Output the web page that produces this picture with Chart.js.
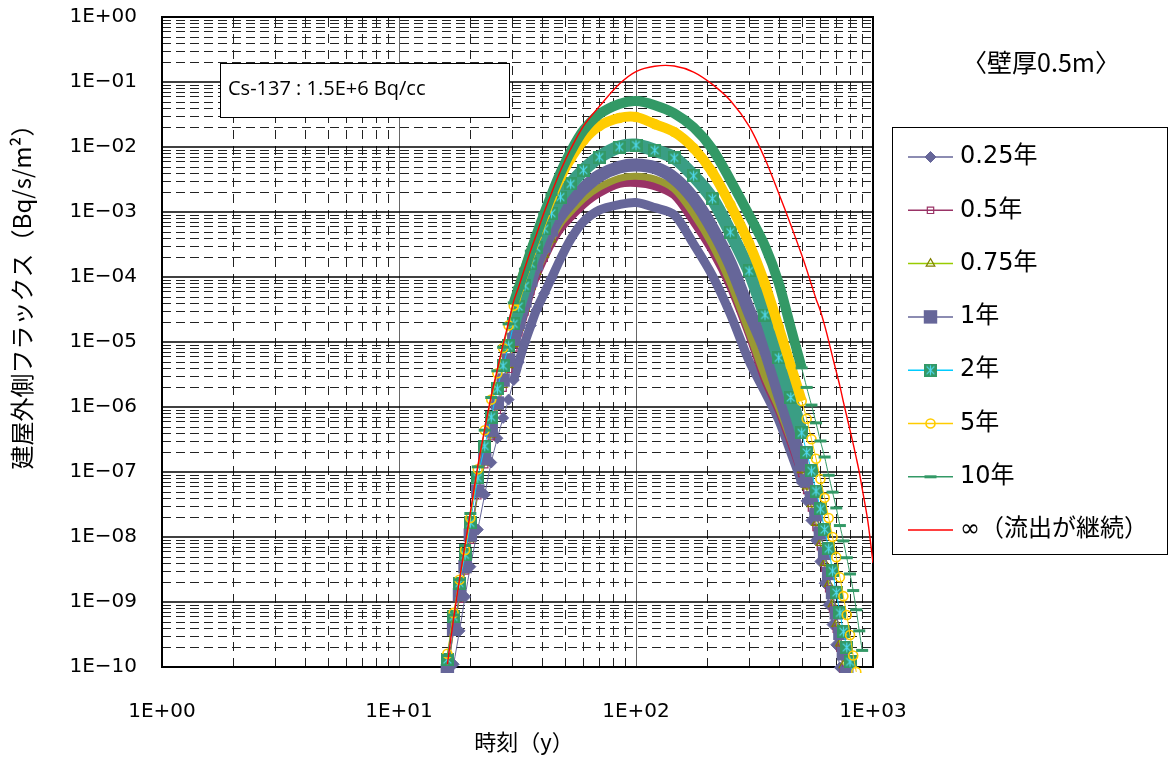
<!DOCTYPE html>
<html>
<head>
<meta charset="utf-8">
<script src="https://cdn.jsdelivr.net/npm/chart.js@4.4.0/dist/chart.umd.min.js"></script>
<style>
  html, body { margin: 0; padding: 0; background: #fff; }
  #wrap { width: 1173px; height: 761px; }
</style>
</head>
<body>
<div id="wrap"><canvas id="fluxChart"></canvas></div>
<script>
// elapsed time (y), shared by every series
const times = [16, 17, 18, 19, 20, 21.5, 23, 24.5, 26, 27.5, 29, 30.5, 32, 34, 36, 38, 41, 44, 48, 53, 60, 70, 85,
  100, 120, 145, 175, 210, 250, 300, 350, 400, 450, 500, 525, 550, 575, 600, 625, 650, 675, 700, 725, 750, 775,
  800, 825, 850, 875, 900, 950, 1000];

// flux outside the building (Bq/s/m2) for each release duration
const flux025 = [null, 1.1e-10, 3.6e-10, 1.2e-9, 3.5e-9, 1.3e-8, 4.5e-8, 1.4e-7, 3.3e-7, 6.8e-7, 1.3e-6, 2.6e-6, 4.9e-6, 1.0e-5, 1.8e-5, 3.1e-5, 5.6e-5, 9.6e-5, 1.9e-4, 3.8e-4, 7.1e-4, 1.07e-3, 1.3e-3,
  1.4e-3, 1.17e-3, 9.1e-4, 3.2e-4, 1.05e-4, 2.7e-5, 5.1e-6, 1.7e-6, 6.3e-7, 2.0e-7, 6.9e-8, 3.6e-8, 1.8e-8, 8.9e-9, 4.2e-9, 1.95e-9, 9.1e-10, 4.5e-10, 2.2e-10, 9.8e-11, null, null,
  null, null, null, null, null, null, null];
const flux05 = [8.0e-11, 3.5e-10, 1.1e-9, 3.0e-9, 8.9e-9, 4.3e-8, 1.3e-7, 3.5e-7, 8.9e-7, 1.95e-6, 3.8e-6, 8.1e-6, 1.4e-5, 2.9e-5, 6.0e-5, 1.04e-4, 1.95e-4, 3.3e-4, 5.5e-4, 8.3e-4, 1.3e-3, 1.95e-3, 2.7e-3,
  2.8e-3, 2.5e-3, 1.8e-3, 7.1e-4, 2.5e-4, 7.1e-5, 1.3e-5, 2.6e-6, 8.9e-7, 2.8e-7, 9.5e-8, 5.2e-8, 2.8e-8, 1.4e-8, 7.1e-9, 3.3e-9, 1.6e-9, 7.8e-10, 3.8e-10, 1.95e-10, 8.7e-11, null,
  null, null, null, null, null, null, null];
const flux075 = [8.1e-11, 3.6e-10, 1.15e-9, 3.1e-9, 9.3e-9, 4.6e-8, 1.4e-7, 3.8e-7, 1.0e-6, 2.2e-6, 4.4e-6, 9.3e-6, 1.65e-5, 3.3e-5, 7.1e-5, 1.2e-4, 2.2e-4, 3.8e-4, 6.6e-4, 1.0e-3, 1.6e-3, 2.4e-3, 3.3e-3,
  3.55e-3, 3.2e-3, 2.25e-3, 9.3e-4, 3.1e-4, 8.1e-5, 1.4e-5, 2.9e-6, 9.6e-7, 3.1e-7, 1.07e-7, 6.0e-8, 3.2e-8, 1.65e-8, 8.1e-9, 4.0e-9, 1.9e-9, 9.3e-10, 4.6e-10, 2.3e-10, 1.07e-10, null,
  null, null, null, null, null, null, null];
const flux1 = [8.7e-11, 3.8e-10, 1.3e-9, 3.5e-9, 1.07e-8, 5.1e-8, 1.6e-7, 4.4e-7, 1.15e-6, 2.6e-6, 5.3e-6, 1.1e-5, 2.0e-5, 4.3e-5, 9.0e-5, 1.6e-4, 3.0e-4, 5.3e-4, 9.0e-4, 1.4e-3, 2.3e-3, 3.6e-3, 4.9e-3,
  5.3e-3, 4.8e-3, 3.3e-3, 1.6e-3, 5.6e-4, 1.6e-4, 3.0e-5, 7.9e-6, 1.7e-6, 4.6e-7, 1.3e-7, 7.3e-8, 4.0e-8, 2.2e-8, 1.15e-8, 5.6e-9, 2.75e-9, 1.4e-9, 6.8e-10, 3.3e-10, 1.6e-10, 8.0e-11,
  null, null, null, null, null, null, null];
const flux2 = [1.3e-10, 5.9e-10, 1.96e-9, 5.3e-9, 1.65e-8, 8.1e-8, 2.5e-7, 7.0e-7, 1.9e-6, 4.3e-6, 8.7e-6, 1.9e-5, 3.5e-5, 7.3e-5, 1.6e-4, 2.8e-4, 5.5e-4, 9.6e-4, 1.7e-3, 2.7e-3, 4.4e-3, 7.0e-3, 1.0e-2,
  1.07e-2, 8.9e-3, 6.8e-3, 3.6e-3, 1.6e-3, 4.9e-4, 1.24e-4, 2.6e-5, 5.7e-6, 1.4e-6, 4.0e-7, 2.0e-7, 1.04e-7, 5.1e-8, 2.7e-8, 1.3e-8, 6.6e-9, 3.0e-9, 1.4e-9, 6.8e-10, 3.5e-10, 2.0e-10,
  1.2e-10, 7.0e-11, null, null, null, null, null];
const flux5 = [1.6e-10, 6.8e-10, 2.2e-9, 6.3e-9, 1.96e-8, 1.1e-7, 4.4e-7, 1.3e-6, 3.3e-6, 8.1e-6, 1.8e-5, 3.6e-5, 6.6e-5, 1.3e-4, 2.4e-4, 4.2e-4, 8.7e-4, 1.66e-3, 3.4e-3, 6.6e-3, 1.26e-2, 2.1e-2, 2.8e-2,
  2.9e-2, 2.25e-2, 1.7e-2, 9.6e-3, 4.1e-3, 1.3e-3, 3.3e-4, 7.8e-5, 1.7e-5, 4.3e-6, 1.24e-6, 6.6e-7, 3.2e-7, 1.6e-7, 7.8e-8, 4.0e-8, 1.96e-8, 1.0e-8, 4.9e-9, 2.4e-9, 1.23e-9, 6.3e-10,
  3.1e-10, 1.5e-10, 8.4e-11, null, null, null, null];
const flux10 = [1.5e-10, 6.3e-10, 2.2e-9, 7.4e-9, 2.3e-8, 1.2e-7, 4.4e-7, 1.4e-6, 3.6e-6, 8.3e-6, 1.9e-5, 4.0e-5, 6.8e-5, 1.32e-4, 2.5e-4, 4.4e-4, 9.5e-4, 1.86e-3, 4.0e-3, 8.5e-3, 1.8e-2, 3.2e-2, 4.6e-2,
  5.1e-2, 4.4e-2, 3.3e-2, 2.0e-2, 9.3e-3, 3.1e-3, 9.0e-4, 3.0e-4, 8.1e-5, 1.64e-5, 4.0e-6, 2.0e-6, 1.07e-6, 5.7e-7, 3.0e-7, 1.7e-7, 8.9e-8, 4.9e-8, 2.8e-8, 1.5e-8, 8.7e-9, 4.8e-9,
  2.7e-9, 1.5e-9, 7.6e-10, 3.6e-10, 1.8e-10, null, null];
const fluxInf = [1.1e-10, 5.6e-10, 2.2e-9, 7.6e-9, 2.4e-8, 1.23e-7, 4.6e-7, 1.5e-6, 3.8e-6, 9.3e-6, 2.0e-5, 4.3e-5, 7.1e-5, 1.4e-4, 2.6e-4, 4.5e-4, 1.0e-3, 1.95e-3, 4.3e-3, 9.3e-3, 2.1e-2, 4.2e-2, 9.3e-2,
  0.145, 0.175, 0.176, 0.142, 9.2e-2, 5.2e-2, 2.1e-2, 6.6e-3, 1.95e-3, 6.3e-4, 2.2e-4, 1.3e-4, 7.6e-5, 4.6e-5, 3.0e-5, 1.8e-5, 1.04e-5, 5.9e-6, 3.5e-6, 2.1e-6, 1.2e-6, 7.2e-7,
  4.4e-7, 2.7e-7, 1.65e-7, 1.0e-7, 5.6e-8, 1.8e-8, 4.0e-9];

const seriesLabels = ['0.25年', '0.5年', '0.75年', '1年', '2年', '5年', '10年', '∞（流出が継続）'];

// axis ticks
const xTickValues = [1, 10, 100, 1000];
const xTickLabels = ['1E+00', '1E+01', '1E+02', '1E+03'];
const yTickValues = [1e-10, 1e-9, 1e-8, 1e-7, 1e-6, 1e-5, 1e-4, 1e-3, 1e-2, 1e-1, 1];
const yTickLabels = ['1E−10', '1E−09', '1E−08', '1E−07', '1E−06', '1E−05', '1E−04', '1E−03', '1E−02', '1E−01', '1E+00'];

const noteText = 'Cs-137 : 1.5E+6 Bq/cc';
const wallText = '〈壁厚0.5m〉';
const yTitleText = '建屋外側フラックス（Bq/s/m²）';
const xTitleText = '時刻（y）';

// green square with a cyan star, used as the 2-year marker
function starSquare(size) {
    const c = document.createElement('canvas');
    c.width = size;
    c.height = size;
    const g = c.getContext('2d');
    g.fillStyle = '#339966';
    g.fillRect(0, 0, size, size);
    g.strokeStyle = '#4fd8f0';
    g.lineWidth = 1.2;
    const m = size / 2, k = size * 0.3;
    g.beginPath();
    g.moveTo(m, m - k - 1); g.lineTo(m, m + k + 1);
    g.moveTo(m - k, m - k); g.lineTo(m + k, m + k);
    g.moveTo(m + k, m - k); g.lineTo(m - k, m + k);
    g.stroke();
    return c;
}

// the packed middle part of each run is drawn as a wide band
const inBand = c => c.p0.parsed.x >= 30 && c.p1.parsed.x <= 500;
function bandSegment(width, bandColor, lineColor) {
    return {
        borderWidth: c => inBand(c) ? width : 1,
        borderColor: c => inBand(c) ? bandColor : lineColor
    };
}
// markers only where they stand apart (rising edge and the tail)
function markerRadius(r, keepAll) {
    return c => {
        const t = c.raw ? c.raw.x : 0;
        return (!keepAll && t > 44 && t < 500) ? 0 : r;
    };
}

function points(values) {
    return times.map((t, i) => ({ x: t, y: values[i] }));
}

const datasets = [
    {
        label: seriesLabels[0], data: points(flux025),
        borderColor: '#666699', segment: bandSegment(9, '#666699', '#666699'),
        pointStyle: 'rectRot', legendRadius: 5.5, pointRadius: markerRadius(5.5),
        pointBackgroundColor: '#666699', pointBorderColor: '#666699', pointBorderWidth: 1,
        order: 10
    },
    {
        label: seriesLabels[1], data: points(flux05),
        borderColor: '#993366', segment: bandSegment(8, '#993366', '#993366'),
        pointStyle: 'rect', legendRadius: 4.5, pointRadius: markerRadius(4.5),
        pointBackgroundColor: 'rgba(255,255,255,0)', pointBorderColor: '#993366', pointBorderWidth: 1.2,
        order: 9
    },
    {
        label: seriesLabels[2], data: points(flux075),
        borderColor: '#99CC00', segment: bandSegment(7, '#999933', '#99CC00'),
        pointStyle: 'triangle', legendRadius: 5, pointRadius: markerRadius(5),
        pointBackgroundColor: 'rgba(255,255,255,0)', pointBorderColor: '#808000', pointBorderWidth: 1.2,
        order: 8
    },
    {
        label: seriesLabels[3], data: points(flux1),
        borderColor: '#666699', segment: bandSegment(13, '#666699', '#666699'),
        pointStyle: 'rect', legendRadius: 9.5, pointRadius: markerRadius(9.5),
        pointBackgroundColor: '#666699', pointBorderColor: '#666699', pointBorderWidth: 0,
        order: 7
    },
    {
        label: seriesLabels[4], data: points(flux2),
        borderColor: '#00CCFF', segment: bandSegment(13, '#3a9e84', '#00CCFF'),
        pointStyle: starSquare(13), legendRadius: 6.5, pointRadius: markerRadius(6.5, true),
        pointBackgroundColor: '#339966', pointBorderColor: '#339966', pointBorderWidth: 0,
        order: 6
    },
    {
        label: seriesLabels[5], data: points(flux5),
        borderColor: '#FFCC00', segment: bandSegment(10, '#FFCC00', '#FFCC00'),
        pointStyle: 'circle', legendRadius: 4.5, pointRadius: markerRadius(4.5, true),
        pointBackgroundColor: 'rgba(255,255,255,0)', pointBorderColor: '#FFCC00', pointBorderWidth: 1.6,
        order: 5
    },
    {
        label: seriesLabels[6], data: points(flux10),
        borderColor: '#339966', segment: bandSegment(10, '#339966', '#339966'),
        pointStyle: 'line', legendRadius: 6, pointRadius: markerRadius(6),
        pointBackgroundColor: '#339966', pointBorderColor: '#339966', pointBorderWidth: 3,
        order: 4
    },
    {
        label: seriesLabels[7], data: points(fluxInf),
        borderColor: '#FF0000', borderWidth: 1.4,
        legendRadius: 0, pointRadius: 0, pointStyle: 'circle',
        pointBackgroundColor: '#FF0000', pointBorderColor: '#FF0000', pointBorderWidth: 0,
        order: 3
    }
];

// log grid: solid decades, dashed 2..9 in between
const minorSteps = [2, 3, 4, 5, 6, 7, 8, 9];
const fluxGrid = {
    id: 'fluxGrid',
    beforeDatasetsDraw(chart) {
        const { ctx, chartArea: a, scales: { x, y } } = chart;
        ctx.save();
        ctx.lineWidth = 1;
        ctx.strokeStyle = '#222';
        ctx.setLineDash([9, 5]);
        for (let e = -10; e < 0; e++) {
            minorSteps.forEach(m => {
                const py = Math.round(y.getPixelForValue(m * Math.pow(10, e))) + 0.5;
                ctx.beginPath(); ctx.moveTo(a.left, py); ctx.lineTo(a.right, py); ctx.stroke();
            });
        }
        ctx.setLineDash([9, 7]);
        for (let e = 0; e < 3; e++) {
            minorSteps.forEach(m => {
                const px = Math.round(x.getPixelForValue(m * Math.pow(10, e))) + 0.5;
                ctx.beginPath(); ctx.moveTo(px, a.bottom); ctx.lineTo(px, a.top); ctx.stroke();
            });
        }
        ctx.setLineDash([]);
        ctx.strokeStyle = '#666';
        [10, 100].forEach(v => {
            const px = Math.round(x.getPixelForValue(v)) + 0.5;
            ctx.beginPath(); ctx.moveTo(px, a.top); ctx.lineTo(px, a.bottom); ctx.stroke();
        });
        ctx.strokeStyle = '#000';
        ctx.lineWidth = 1.5;
        yTickValues.forEach(v => {
            const py = Math.round(y.getPixelForValue(v));
            ctx.beginPath(); ctx.moveTo(a.left, py); ctx.lineTo(a.right, py); ctx.stroke();
        });
        ctx.lineWidth = 2;
        ctx.strokeRect(a.left, a.top, a.right - a.left, a.bottom - a.top);
        ctx.restore();
    }
};

// legend, note box, wall label and both axis titles
const fluxDecor = {
    id: 'fluxDecor',
    afterDraw(chart) {
        const { ctx } = chart;
        ctx.save();

        ctx.fillStyle = '#fff';
        ctx.fillRect(220.5, 63.5, 289, 54);
        ctx.strokeStyle = '#000';
        ctx.lineWidth = 1;
        ctx.strokeRect(220.5, 63.5, 289, 54);
        ctx.fillStyle = '#000';
        ctx.font = '20px "Open Sans"';
        ctx.textAlign = 'left';
        ctx.textBaseline = 'middle';
        ctx.fillText(noteText, 228, 89);

        ctx.font = '25px "Noto Sans CJK JP"';
        ctx.textAlign = 'center';
        ctx.fillText(wallText, 1041, 62);

        ctx.font = '22px "Noto Sans CJK JP"';
        ctx.fillText(xTitleText, 524, 742);

        ctx.strokeStyle = '#000';
        ctx.lineWidth = 1;
        ctx.strokeRect(892.5, 127.5, 275, 427);
        chart.data.datasets.forEach((ds, i) => {
            const cy = 157 + i * 53.3;
            ctx.strokeStyle = ds.borderColor;
            ctx.lineWidth = 1.5;
            ctx.beginPath(); ctx.moveTo(908, cy); ctx.lineTo(953, cy); ctx.stroke();
            if (ds.legendRadius > 0) {
                ctx.fillStyle = ds.pointBackgroundColor;
                ctx.strokeStyle = ds.pointBorderColor;
                ctx.lineWidth = ds.pointBorderWidth;
                Chart.helpers.drawPoint(ctx, {
                    pointStyle: ds.pointStyle, radius: ds.legendRadius,
                    rotation: 0, borderWidth: ds.pointBorderWidth
                }, 930.5, cy);
            }
            ctx.fillStyle = '#000';
            ctx.font = '24px "DejaVu Sans", "Noto Sans CJK JP"';
            ctx.textAlign = 'left';
            ctx.textBaseline = 'middle';
            ctx.fillText(ds.label, 960, cy);
        });

        ctx.translate(22, 291);
        ctx.rotate(-Math.PI / 2);
        ctx.font = '24px "Noto Sans CJK JP"';
        ctx.textAlign = 'center';
        ctx.fillStyle = '#000';
        ctx.fillText(yTitleText, 0, 0);
        ctx.restore();
    }
};

Chart.defaults.font.family = '"DejaVu Sans", "Noto Sans CJK JP", sans-serif';
Chart.defaults.color = '#000';

const ctx = document.getElementById('fluxChart').getContext('2d');
new Chart(ctx, {
    type: 'line',
    data: { datasets: datasets },
    options: {
        responsive: true,
        maintainAspectRatio: false,
        animation: false,
        events: [],
        layout: { padding: { left: 0, right: 300, top: 17, bottom: 0 } },
        elements: { line: { borderJoinStyle: 'round', tension: 0.3 } },
        datasets: { line: { clip: { left: 0, top: 0, right: 0, bottom: 6 }, spanGaps: false } },
        plugins: {
            legend: { display: false },
            tooltip: { enabled: false }
        },
        scales: {
            x: {
                type: 'logarithmic',
                min: 1,
                max: 1000,
                afterBuildTicks: s => { s.ticks = xTickValues.map(v => ({ value: v })); },
                afterFit: s => { s.height = 94; },
                grid: { display: false, drawTicks: true, tickLength: 33 },
                border: { display: false },
                ticks: {
                    autoSkip: false, maxRotation: 0, minRotation: 0, padding: 0,
                    font: { size: 20 },
                    callback: (v, i) => xTickLabels[i]
                }
            },
            y: {
                type: 'logarithmic',
                min: 1e-10,
                max: 1,
                afterBuildTicks: s => { s.ticks = yTickValues.map(v => ({ value: v })); },
                afterFit: s => { s.width = 162; },
                grid: { display: false, drawTicks: true, tickLength: 25 },
                border: { display: false },
                ticks: {
                    autoSkip: false, padding: 0,
                    font: { size: 20 },
                    callback: (v, i) => yTickLabels[i]
                }
            }
        }
    },
    plugins: [fluxGrid, fluxDecor]
});
</script>
</body>
</html>
